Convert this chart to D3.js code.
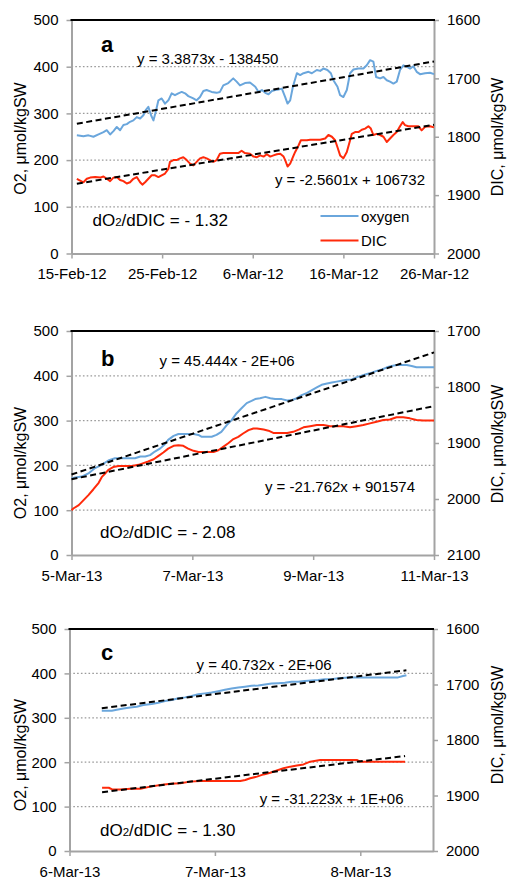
<!DOCTYPE html>
<html>
<head>
<meta charset="utf-8">
<script src="https://cdn.jsdelivr.net/npm/d3@7"></script>
<style>
  body { margin: 0; background: #fff; }
  text { font-family: "Liberation Sans", Arial, sans-serif; fill: #000; }
</style>
</head>
<body>
<svg id="chart" width="507" height="879"></svg>
<script>
// ---------- Panel a: Feb–Mar 2012 ----------
const startA = "2012-02-15";
const xTickLabelsA = ["15-Feb-12", "25-Feb-12", "6-Mar-12", "16-Mar-12", "26-Mar-12"];
const dicTicksA = [1600, 1700, 1800, 1900, 2000];
const o2DayA = [0.59,1.32,1.87,2.42,2.98,3.53,3.89,4.26,4.63,5.0,5.36,5.73,6.1,6.46,6.83,7.2,7.57,7.93,8.19,8.48,
  8.78,9.04,9.29,9.59,9.95,10.32,10.69,11.05,11.42,11.79,12.16,12.53,12.89,13.44,13.81,14.18,14.55,14.91,15.46,16.01,
  16.38,16.75,17.3,17.85,18.22,18.59,19.14,19.69,20.28,20.64,21.01,21.38,21.74,22.11,22.48,22.84,23.21,23.58,23.84,24.13,
  24.43,24.87,25.23,25.6,26.15,26.52,27.07,27.44,27.8,28.24,28.62,28.9,29.35,29.64,30.0,30.38,30.74,31.11,31.66,32.21,
  32.58,32.95,33.31,33.61,34.05,34.42,34.79,35.15,35.52,35.89,36.25,36.62,36.99,37.36,37.72,38.09,38.46,39.01,39.56,40.0];
const o2A = [253,251,253,250,255,260,264,255,262,271,264,275,277,282,285,292,289,296,307,314,
  296,285,303,328,332,321,328,343,339,343,346,343,337,332,328,335,348,350,346,344,
  346,360,365,375,368,360,365,366,357,346,350,344,341,348,350,351,353,335,321,328,
  357,386,382,386,389,386,393,391,396,393,386,371,357,339,335,350,386,394,396,396,
  403,414,411,378,375,378,371,368,364,368,393,403,400,396,401,389,384,386,387,384];
const dicDayA = [0.59,0.95,1.32,1.69,2.06,2.61,3.16,3.53,3.89,4.26,4.63,5.0,5.36,5.73,6.1,6.46,6.83,7.2,7.57,7.82,
  8.12,8.48,8.85,9.22,9.59,9.95,10.32,10.69,10.87,11.24,11.6,11.97,12.34,12.71,13.08,13.44,13.81,14.18,14.55,14.91,
  15.28,15.65,16.01,16.38,16.75,17.3,17.85,18.4,18.77,19.14,19.69,20.09,20.46,20.83,21.19,21.56,21.93,22.29,22.66,23.03,
  23.4,23.58,23.84,24.13,24.43,24.68,25.05,25.31,25.6,25.97,26.34,26.89,27.44,27.99,28.35,28.73,29.09,29.35,29.64,30.0,
  30.38,30.74,30.93,31.29,31.66,32.03,32.4,32.76,33.03,33.31,33.68,34.05,34.42,34.79,35.15,35.52,35.89,36.25,36.55,36.8,
  37.17,37.72,38.27,38.64,39.01,39.56,40.0];
const dicA = [1872,1875,1878,1872,1870,1869,1870,1868,1872,1876,1870,1869,1874,1876,1880,1878,1872,1869,1878,1882,
  1878,1872,1866,1866,1869,1866,1863,1855,1843,1840,1840,1837,1835,1840,1846,1849,1843,1837,1835,1837,
  1840,1843,1840,1829,1828,1828,1828,1828,1824,1828,1829,1834,1835,1832,1834,1830,1834,1832,1830,1829,
  1834,1840,1851,1846,1835,1826,1815,1806,1806,1806,1805,1805,1805,1803,1797,1800,1806,1818,1832,1837,
  1826,1806,1795,1792,1792,1788,1786,1782,1786,1797,1795,1797,1800,1809,1803,1797,1792,1782,1775,1780,
  1782,1782,1782,1789,1783,1782,1784];
const eqO2A = "y = 3.3873x - 138450";
const eqDicA = "y = -2.5601x + 106732";
const ratioA = "- 1.32";

// ---------- Panel b: 5–11 Mar 2013 ----------
const startB = "2013-03-05";
const xTickLabelsB = ["5-Mar-13", "7-Mar-13", "9-Mar-13", "11-Mar-13"];
const dicTicksB = [1700, 1800, 1900, 2000, 2100];
const o2DayB = [0,0.06,0.17,0.28,0.39,0.5,0.61,0.72,0.83,0.94,1.05,1.14,1.22,1.3,1.38,1.47,1.55,1.6,1.69,1.77,
  1.85,1.93,2.02,2.1,2.15,2.24,2.32,2.4,2.48,2.57,2.65,2.73,2.81,2.9,2.98,3.04,3.12,3.21,3.29,3.37,
  3.48,3.57,3.65,3.73,3.81,3.9,3.98,4.06,4.14,4.23,4.31,4.39,4.47,4.56,4.64,4.72,4.8,4.89,4.97,5.05,
  5.14,5.22,5.3,5.38,5.47,5.55,5.63,5.71,5.8,5.88,6.0];
const o2B = [171,173,175,182,194,201,211,216,216,216,216,220,220,223,231,238,248,257,266,270,
  270,270,270,268,264,264,264,268,275,290,301,316,327,339,344,348,350,353,350,348,
  348,345,346,350,357,362,368,374,380,383,385,387,389,391,392,397,400,404,407,411,
  414,419,422,424,424,424,422,419,419,419,419];
const dicDayB = [0,0.03,0.12,0.2,0.28,0.36,0.45,0.5,0.56,0.61,0.69,0.78,0.89,1.0,1.11,1.19,1.27,1.36,1.44,1.52,
  1.6,1.69,1.77,1.85,1.93,2.02,2.1,2.18,2.26,2.35,2.43,2.51,2.6,2.68,2.76,2.84,2.93,3.01,3.07,3.18,
  3.26,3.34,3.45,3.57,3.67,3.76,3.84,3.95,4.06,4.17,4.28,4.39,4.5,4.61,4.72,4.83,4.94,5.05,5.16,5.27,
  5.38,5.49,5.6,5.71,5.82,6.0];
const dicB = [2020,2017,2011,2002,1993,1983,1971,1961,1954,1948,1943,1941,1941,1941,1939,1936,1933,1929,1923,1917,
  1910,1905,1904,1905,1910,1914,1916,1916,1916,1916,1913,1907,1900,1893,1889,1883,1877,1874,1874,1876,
  1878,1882,1882,1882,1880,1876,1872,1870,1868,1868,1870,1870,1870,1872,1870,1868,1865,1862,1859,1858,
  1854,1854,1856,1859,1860,1860];
const eqO2B = "y = 45.444x - 2E+06";
const eqDicB = "y = -21.762x + 901574";
const ratioB = "- 2.08";

// ---------- Panel c: 6–8 Mar 2013 ----------
const startC = "2013-03-06";
const xTickLabelsC = ["6-Mar-13", "7-Mar-13", "8-Mar-13"];
const dicTicksC = [1600, 1700, 1800, 1900, 2000];
const o2DayC = [0.222,0.291,0.325,0.371,0.417,0.462,0.508,0.565,0.611,0.657,0.703,0.749,0.795,0.84,0.886,
  0.932,0.977,1.023,1.069,1.115,1.161,1.207,1.252,1.298,1.344,1.39,1.435,1.481,1.527,1.573,
  1.619,1.664,1.71,1.756,1.802,1.848,1.894,1.939,2.26,2.294,2.317];
const o2C = [316,316,318,321,323,325,329,331,334,338,340,344,346,349,353,
  355,357,360,363,366,368,370,372,373,375,377,378,379,381,381,
  383,384,385,387,387,389,390,391,391,394,396];
const dicDayC = [0.224,0.27,0.293,0.35,0.419,0.488,0.556,0.625,0.694,0.762,0.831,0.9,1.174,1.209,1.243,
  1.289,1.335,1.381,1.426,1.472,1.518,1.564,1.609,1.655,1.724,1.976,1.999,2.308];
const dicC = [1886,1886,1889,1889,1888,1888,1884,1881,1879,1878,1875,1874,1874,1872,1869,
  1866,1862,1859,1855,1851,1848,1846,1844,1839,1836,1836,1839,1839];
const eqO2C = "y = 40.732x - 2E+06";
const eqDicC = "y = -31.223x + 1E+06";
const ratioC = "- 1.30";

// Shared axis values
const o2Ticks = [0, 100, 200, 300, 400, 500];
const o2Grid = [100, 200, 300, 400];
const legendNames = ["oxygen", "DIC"];

// ---------- Layout ----------
const COL_O2 = "#6aa6dc";
const COL_DIC = "#ff2a0a";
const AXIS_GREY = "#a3a3a3";
const parseDay = d3.utcParse("%Y-%m-%d");
const parseTick = d3.utcParse("%d-%b-%y");
const fmtTick = d3.utcFormat("%-d-%b-%y");
const fmtInt = d3.format("d");
const DAY = 864e5;

const panels = [
  { tag: "a", start: startA, span: 40, xTicks: xTickLabelsA, dicTicks: dicTicksA,
    o2Day: o2DayA, o2: o2A, dicDay: dicDayA, dic: dicA, eqO2: eqO2A, eqDic: eqDicA, ratio: ratioA,
    box: { left: 71.5, right: 434, top: 20, bottom: 253.5 },
    tagPos: [101, 52], eqO2Pos: [137, 64], eqDicPos: [425, 185], ratioPos: [92.5, 226],
    titleL: 138.5, titleR: 137, legend: true },
  { tag: "b", start: startB, span: 6, xTicks: xTickLabelsB, dicTicks: dicTicksB,
    o2Day: o2DayB, o2: o2B, dicDay: dicDayB, dic: dicB, eqO2: eqO2B, eqDic: eqDicB, ratio: ratioB,
    box: { left: 71.5, right: 434, top: 331, bottom: 555 },
    tagPos: [101, 366], eqO2Pos: [159.5, 366], eqDicPos: [415, 491.5], ratioPos: [100, 538],
    titleL: 463, titleR: 444, legend: false },
  { tag: "c", start: startC, span: 2.5, xTicks: xTickLabelsC, dicTicks: dicTicksC,
    o2Day: o2DayC, o2: o2C, dicDay: dicDayC, dic: dicC, eqO2: eqO2C, eqDic: eqDicC, ratio: ratioC,
    box: { left: 69.5, right: 433, top: 629, bottom: 851 },
    tagPos: [101, 660], eqO2Pos: [196.5, 670], eqDicPos: [403.5, 803.5], ratioPos: [100, 836],
    titleL: 755, titleR: 725, legend: false }
];

// Least-squares line with the slope taken from the trend equation; the
// intercept is fitted to the series (time-weighted mean over its span).
function trendLine(days, vals, eq) {
  const slope = parseFloat(eq.match(/y = (-?[\d.]+)x/)[1]);
  let area = 0;
  for (let i = 0; i < days.length - 1; i++) {
    area += (vals[i] + vals[i + 1]) / 2 * (days[i + 1] - days[i]);
  }
  const t0 = days[0], t1 = days[days.length - 1];
  const meanY = area / (t1 - t0);
  const a = meanY - slope * (t0 + t1) / 2;
  return [[t0, a + slope * t0], [t1, a + slope * t1]];
}

const svg = d3.select("#chart");

panels.forEach(p => {
  const b = p.box;
  const t0 = parseDay(p.start);
  const x = d3.scaleUtc()
    .domain([t0, new Date(t0.getTime() + p.span * DAY)])
    .range([b.left, b.right]);
  const yO2 = d3.scaleLinear().domain([0, 500]).range([b.bottom, b.top]);
  const yDic = d3.scaleLinear()
    .domain([p.dicTicks[0], p.dicTicks[p.dicTicks.length - 1]])
    .range([b.top, b.bottom]);
  const at = d => new Date(t0.getTime() + d * DAY);

  const g = svg.append("g").attr("class", "panel-" + p.tag);

  // dotted gridlines
  g.append("g").selectAll("line").data(o2Grid).join("line")
    .attr("x1", b.left).attr("x2", b.right)
    .attr("y1", d => yO2(d)).attr("y2", d => yO2(d))
    .attr("stroke", "#9a9a9a").attr("stroke-width", 1.3)
    .attr("stroke-dasharray", "1.6,2.2");

  // axes
  const styleAxis = sel => {
    sel.selectAll("path.domain").attr("stroke", AXIS_GREY).attr("stroke-width", 2);
    sel.selectAll(".tick line").attr("stroke", AXIS_GREY).attr("stroke-width", 1.5);
    sel.selectAll(".tick text")
      .attr("font-family", "Liberation Sans, Arial, sans-serif")
      .attr("font-size", 15).attr("fill", "#000");
  };

  const xTickDates = p.xTicks.map(s => parseTick(s));
  g.append("g")
    .attr("transform", `translate(0,${b.bottom})`)
    .call(d3.axisBottom(x).tickValues(xTickDates).tickFormat(fmtTick)
      .tickSize(5).tickSizeOuter(0).tickPadding(7))
    .call(styleAxis)
    .call(sel => sel.selectAll(".tick text").attr("dy", "0").attr("y", 25.5));

  g.append("g")
    .attr("transform", `translate(${b.left},0)`)
    .call(d3.axisLeft(yO2).tickValues(o2Ticks).tickFormat(fmtInt)
      .tickSize(5).tickSizeOuter(0).tickPadding(8))
    .call(styleAxis);

  g.append("g")
    .attr("transform", `translate(${b.right},0)`)
    .call(d3.axisRight(yDic).tickValues(p.dicTicks).tickFormat(fmtInt)
      .tickSize(5).tickSizeOuter(0).tickPadding(8))
    .call(styleAxis);

  // top border, drawn over the axis ends
  g.append("line")
    .attr("x1", b.left - 1).attr("x2", b.right + 1)
    .attr("y1", b.top).attr("y2", b.top)
    .attr("stroke", "#000").attr("stroke-width", 2);

  // axis titles
  g.append("text")
    .attr("transform", `translate(26,${p.titleL}) rotate(-90)`)
    .attr("text-anchor", "middle").attr("font-size", 16)
    .text("O2,  μmol/kgSW");
  g.append("text")
    .attr("transform", `translate(503,${p.titleR}) rotate(-90)`)
    .attr("text-anchor", "middle").attr("font-size", 16)
    .text("DIC,  μmol/kgSW");

  // series
  const lineO2 = d3.line().x((d, i) => x(at(p.o2Day[i]))).y(d => yO2(d));
  const lineDic = d3.line().x((d, i) => x(at(p.dicDay[i]))).y(d => yDic(d));
  g.append("path").datum(p.o2).attr("d", lineO2)
    .attr("fill", "none").attr("stroke", COL_O2).attr("stroke-width", 2)
    .attr("stroke-linejoin", "round");
  g.append("path").datum(p.dic).attr("d", lineDic)
    .attr("fill", "none").attr("stroke", COL_DIC).attr("stroke-width", 2)
    .attr("stroke-linejoin", "round");

  // trend lines
  const trends = [
    { pts: trendLine(p.o2Day, p.o2, p.eqO2), y: yO2 },
    { pts: trendLine(p.dicDay, p.dic, p.eqDic), y: yDic }
  ];
  trends.forEach(t => {
    g.append("line")
      .attr("x1", x(at(t.pts[0][0]))).attr("y1", t.y(t.pts[0][1]))
      .attr("x2", x(at(t.pts[1][0]))).attr("y2", t.y(t.pts[1][1]))
      .attr("stroke", "#000").attr("stroke-width", 2)
      .attr("stroke-dasharray", "6,3.5");
  });

  // panel tag
  g.append("text").attr("x", p.tagPos[0]).attr("y", p.tagPos[1])
    .attr("font-size", 22).attr("font-weight", "bold").text(p.tag);

  // trend equations
  g.append("text").attr("x", p.eqO2Pos[0]).attr("y", p.eqO2Pos[1])
    .attr("font-size", 15).text(p.eqO2);
  g.append("text").attr("x", p.eqDicPos[0]).attr("y", p.eqDicPos[1])
    .attr("text-anchor", "end").attr("font-size", 15).text(p.eqDic);

  // ratio
  const r = g.append("text").attr("x", p.ratioPos[0]).attr("y", p.ratioPos[1])
    .attr("font-size", 17);
  r.append("tspan").text("dO");
  r.append("tspan").attr("font-size", 11.5).text("2");
  r.append("tspan").text("/dDIC = " + p.ratio);

  // legend
  if (p.legend) {
    const lg = g.append("g");
    const cols = [COL_O2, COL_DIC];
    legendNames.forEach((name, i) => {
      const ly = 216 + i * 24.5;
      lg.append("line").attr("x1", 320.5).attr("x2", 358.5)
        .attr("y1", ly).attr("y2", ly)
        .attr("stroke", cols[i]).attr("stroke-width", 2);
      lg.append("text").attr("x", 361).attr("y", ly + 5.5)
        .attr("font-size", 15).text(name);
    });
  }
});
</script>
</body>
</html>
